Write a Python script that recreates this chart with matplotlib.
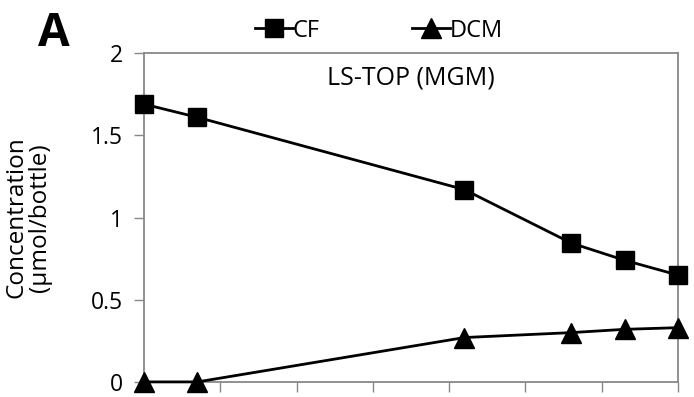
import matplotlib.pyplot as plt

# sampling days and concentrations (umol/bottle)
days = [0, 3.5, 21, 28, 31.5, 35]
cf = [1.69, 1.61, 1.17, 0.845, 0.74, 0.65]
dcm = [0.0, 0.0, 0.27, 0.30, 0.32, 0.33]
xticks = [0, 5, 10, 15, 20, 25, 30, 35]
yticks = [0, 0.5, 1, 1.5, 2]
ytick_labels = ["0", "0.5", "1", "1.5", "2"]

plt.rcParams['font.family'] = ['Open Sans', 'DejaVu Sans']

fig = plt.figure(figsize=(6.94, 3.97), dpi=100)
ax = fig.add_axes([0.2075, 0.038, 0.7695, 0.828])

ax.plot(days, cf, color='black', lw=2, marker='s', markersize=12.5,
        clip_on=False, zorder=3, label='CF')
ax.plot(days, dcm, color='black', lw=2, marker='^', markersize=14,
        clip_on=False, zorder=3, label='DCM')

ax.set_xlim(0, 35)
ax.set_ylim(0, 2)
ax.set_xticks(xticks)
ax.set_xticklabels([])
ax.set_yticks(yticks)
ax.set_yticklabels(ytick_labels, fontsize=16.5)
ax.tick_params(axis='both', color='#888888', length=7, width=1)
ax.tick_params(axis='y', direction='out', pad=8)
ax.tick_params(axis='x', direction='out')

for s in ax.spines.values():
    s.set_color('#888888')
    s.set_linewidth(1.3)

ax.set_ylabel("Concentration\n(µmol/bottle)", fontsize=17.5, linespacing=1.0)
ax.yaxis.set_label_coords(-0.172, 0.5)
ax.text(0.5, 0.925, "LS-TOP (MGM)", transform=ax.transAxes, ha='center',
        va='center', fontsize=18)

fig.text(0.078, 0.915, "A", fontsize=33, fontweight='bold', ha='center',
         va='center')

ax.legend(loc='lower center', bbox_to_anchor=(0.44, 1.0), ncol=2,
          frameon=False, fontsize=17, handlelength=1.6, handletextpad=0.0,
          columnspacing=3.9, markerscale=1.0, borderaxespad=0.05)

fig.savefig("out.png", dpi=100)
